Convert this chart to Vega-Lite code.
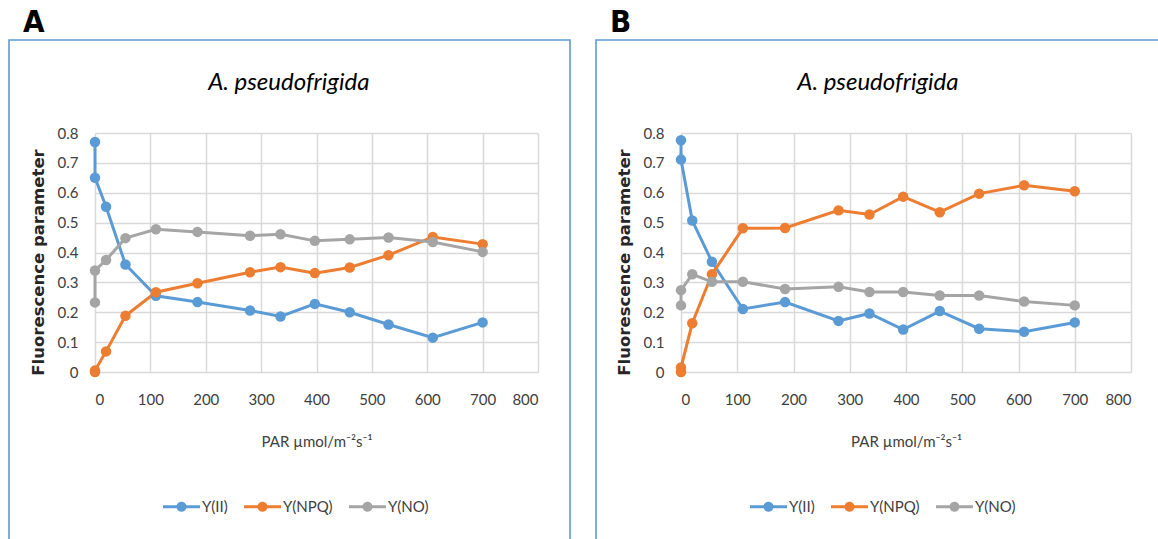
{
  "$schema": "https://vega.github.io/schema/vega-lite/v6.json",
  "padding": {"left": 8, "top": 6, "right": 0, "bottom": 0},
  "spacing": 24,
  "background": "white",
  "datasets": {
    "A": [
      {"idx": 1, "series": "Y(II)", "PAR": 0, "value": 0.77},
      {"idx": 2, "series": "Y(II)", "PAR": 0, "value": 0.65},
      {"idx": 3, "series": "Y(II)", "PAR": 20, "value": 0.553},
      {"idx": 4, "series": "Y(II)", "PAR": 55, "value": 0.36},
      {"idx": 5, "series": "Y(II)", "PAR": 110, "value": 0.255},
      {"idx": 6, "series": "Y(II)", "PAR": 185, "value": 0.234},
      {"idx": 7, "series": "Y(II)", "PAR": 280, "value": 0.206},
      {"idx": 8, "series": "Y(II)", "PAR": 335, "value": 0.186},
      {"idx": 9, "series": "Y(II)", "PAR": 397, "value": 0.228},
      {"idx": 10, "series": "Y(II)", "PAR": 460, "value": 0.2},
      {"idx": 11, "series": "Y(II)", "PAR": 530, "value": 0.159},
      {"idx": 12, "series": "Y(II)", "PAR": 610, "value": 0.115},
      {"idx": 13, "series": "Y(II)", "PAR": 700, "value": 0.166},
      {"idx": 1, "series": "Y(NPQ)", "PAR": 0, "value": 0.0},
      {"idx": 2, "series": "Y(NPQ)", "PAR": 0, "value": 0.005},
      {"idx": 3, "series": "Y(NPQ)", "PAR": 20, "value": 0.069},
      {"idx": 4, "series": "Y(NPQ)", "PAR": 55, "value": 0.188},
      {"idx": 5, "series": "Y(NPQ)", "PAR": 110, "value": 0.267},
      {"idx": 6, "series": "Y(NPQ)", "PAR": 185, "value": 0.297},
      {"idx": 7, "series": "Y(NPQ)", "PAR": 280, "value": 0.334},
      {"idx": 8, "series": "Y(NPQ)", "PAR": 335, "value": 0.351},
      {"idx": 9, "series": "Y(NPQ)", "PAR": 397, "value": 0.331},
      {"idx": 10, "series": "Y(NPQ)", "PAR": 460, "value": 0.35},
      {"idx": 11, "series": "Y(NPQ)", "PAR": 530, "value": 0.391},
      {"idx": 12, "series": "Y(NPQ)", "PAR": 610, "value": 0.452},
      {"idx": 13, "series": "Y(NPQ)", "PAR": 700, "value": 0.428},
      {"idx": 1, "series": "Y(NO)", "PAR": 0, "value": 0.233},
      {"idx": 2, "series": "Y(NO)", "PAR": 0, "value": 0.34},
      {"idx": 3, "series": "Y(NO)", "PAR": 20, "value": 0.375},
      {"idx": 4, "series": "Y(NO)", "PAR": 55, "value": 0.448},
      {"idx": 5, "series": "Y(NO)", "PAR": 110, "value": 0.478},
      {"idx": 6, "series": "Y(NO)", "PAR": 185, "value": 0.469},
      {"idx": 7, "series": "Y(NO)", "PAR": 280, "value": 0.456},
      {"idx": 8, "series": "Y(NO)", "PAR": 335, "value": 0.461},
      {"idx": 9, "series": "Y(NO)", "PAR": 397, "value": 0.439},
      {"idx": 10, "series": "Y(NO)", "PAR": 460, "value": 0.444},
      {"idx": 11, "series": "Y(NO)", "PAR": 530, "value": 0.45},
      {"idx": 12, "series": "Y(NO)", "PAR": 610, "value": 0.435},
      {"idx": 13, "series": "Y(NO)", "PAR": 700, "value": 0.402}
    ],
    "B": [
      {"idx": 1, "series": "Y(II)", "PAR": 0, "value": 0.776},
      {"idx": 2, "series": "Y(II)", "PAR": 0, "value": 0.711},
      {"idx": 3, "series": "Y(II)", "PAR": 20, "value": 0.507},
      {"idx": 4, "series": "Y(II)", "PAR": 55, "value": 0.369},
      {"idx": 5, "series": "Y(II)", "PAR": 110, "value": 0.211},
      {"idx": 6, "series": "Y(II)", "PAR": 185, "value": 0.234},
      {"idx": 7, "series": "Y(II)", "PAR": 280, "value": 0.171},
      {"idx": 8, "series": "Y(II)", "PAR": 335, "value": 0.196},
      {"idx": 9, "series": "Y(II)", "PAR": 395, "value": 0.142},
      {"idx": 10, "series": "Y(II)", "PAR": 460, "value": 0.204},
      {"idx": 11, "series": "Y(II)", "PAR": 530, "value": 0.145},
      {"idx": 12, "series": "Y(II)", "PAR": 610, "value": 0.135},
      {"idx": 13, "series": "Y(II)", "PAR": 700, "value": 0.166},
      {"idx": 1, "series": "Y(NPQ)", "PAR": 0, "value": 0.0},
      {"idx": 2, "series": "Y(NPQ)", "PAR": 0, "value": 0.015},
      {"idx": 3, "series": "Y(NPQ)", "PAR": 20, "value": 0.163},
      {"idx": 4, "series": "Y(NPQ)", "PAR": 55, "value": 0.327},
      {"idx": 5, "series": "Y(NPQ)", "PAR": 110, "value": 0.481},
      {"idx": 6, "series": "Y(NPQ)", "PAR": 185, "value": 0.482},
      {"idx": 7, "series": "Y(NPQ)", "PAR": 280, "value": 0.541},
      {"idx": 8, "series": "Y(NPQ)", "PAR": 335, "value": 0.527},
      {"idx": 9, "series": "Y(NPQ)", "PAR": 395, "value": 0.587},
      {"idx": 10, "series": "Y(NPQ)", "PAR": 460, "value": 0.535},
      {"idx": 11, "series": "Y(NPQ)", "PAR": 530, "value": 0.597},
      {"idx": 12, "series": "Y(NPQ)", "PAR": 610, "value": 0.625},
      {"idx": 13, "series": "Y(NPQ)", "PAR": 700, "value": 0.605},
      {"idx": 1, "series": "Y(NO)", "PAR": 0, "value": 0.223},
      {"idx": 2, "series": "Y(NO)", "PAR": 0, "value": 0.274},
      {"idx": 3, "series": "Y(NO)", "PAR": 20, "value": 0.327},
      {"idx": 4, "series": "Y(NO)", "PAR": 55, "value": 0.302},
      {"idx": 5, "series": "Y(NO)", "PAR": 110, "value": 0.302},
      {"idx": 6, "series": "Y(NO)", "PAR": 185, "value": 0.278},
      {"idx": 7, "series": "Y(NO)", "PAR": 280, "value": 0.285},
      {"idx": 8, "series": "Y(NO)", "PAR": 335, "value": 0.268},
      {"idx": 9, "series": "Y(NO)", "PAR": 395, "value": 0.268},
      {"idx": 10, "series": "Y(NO)", "PAR": 460, "value": 0.256},
      {"idx": 11, "series": "Y(NO)", "PAR": 530, "value": 0.256},
      {"idx": 12, "series": "Y(NO)", "PAR": 610, "value": 0.236},
      {"idx": 13, "series": "Y(NO)", "PAR": 700, "value": 0.223}
    ]
  },
  "hconcat": [
    {
      "width": 561,
      "height": 510,
      "title": {"text": "A", "anchor": "start", "frame": "group", "dx": 14, "offset": 1, "font": "Liberation Sans Narrow, DejaVu Sans Condensed, sans-serif", "fontSize": 31, "fontWeight": "bold", "color": "#000000"},
      "data": {"name": "A"},
      "layer": [
        {
          "mark": {"type": "line", "strokeWidth": 3},
          "encoding": {
            "x": {"field": "PAR", "type": "quantitative", "scale": {"domain": [0, 800], "range": [86, 529], "nice": false, "zero": false},
              "axis": {"orient": "top", "values": [0, 100, 200, 300, 400, 500, 600, 700, 800], "offset": -332, "labelBaseline": "top", "labelPadding": -20, "title": "PAR µmol/m⁻²s⁻¹", "titleY": 69, "titleBaseline": "middle"}},
            "y": {"field": "value", "type": "quantitative", "scale": {"domain": [0, 0.8], "range": [332, 93], "nice": false, "zero": false},
              "axis": {"values": [0, 0.1, 0.2, 0.3, 0.4, 0.5, 0.6, 0.7, 0.8], "format": ".1~f", "offset": -86, "labelPadding": 17, "title": "Fluorescence parameter", "titlePadding": 11, "titleY": 222}},
            "stroke": {"field": "series", "type": "nominal", "scale": {"domain": ["Y(II)", "Y(NPQ)", "Y(NO)"], "range": ["#5B9BD5", "#ED7D31", "#A5A5A5"]},
              "legend": {"orient": "none", "legendX": 154, "legendY": 448, "direction": "horizontal", "title": null}},
            "order": {"field": "idx", "type": "quantitative"}
          }
        },
        {
          "mark": {"type": "point", "filled": true, "opacity": 1, "size": 110},
          "encoding": {
            "x": {"field": "PAR", "type": "quantitative"},
            "y": {"field": "value", "type": "quantitative"},
            "fill": {"field": "series", "type": "nominal", "scale": {"domain": ["Y(II)", "Y(NPQ)", "Y(NO)"], "range": ["#5B9BD5", "#ED7D31", "#A5A5A5"]},
              "legend": {"orient": "none", "legendX": 154, "legendY": 448, "direction": "horizontal", "title": null}}
          }
        },
        {
          "data": {"values": [{}]},
          "mark": {"type": "text", "font": "Lato", "fontStyle": "italic", "fontSize": 24, "align": "center", "baseline": "middle", "color": "#000000"},
          "encoding": {"x": {"datum": 350}, "y": {"datum": 0.967}, "text": {"value": "A. pseudofrigida"}}
        }
      ]
    },
    {
      "width": 570,
      "height": 510,
      "title": {"text": "B", "anchor": "start", "frame": "group", "dx": 14, "offset": 1, "font": "Liberation Sans Narrow, DejaVu Sans Condensed, sans-serif", "fontSize": 31, "fontWeight": "bold", "color": "#000000"},
      "data": {"name": "B"},
      "layer": [
        {
          "mark": {"type": "line", "strokeWidth": 3},
          "encoding": {
            "x": {"field": "PAR", "type": "quantitative", "scale": {"domain": [0, 800], "range": [85, 535], "nice": false, "zero": false},
              "axis": {"orient": "top", "values": [0, 100, 200, 300, 400, 500, 600, 700, 800], "offset": -332, "labelBaseline": "top", "labelPadding": -20, "title": "PAR µmol/m⁻²s⁻¹", "titleY": 69, "titleBaseline": "middle"}},
            "y": {"field": "value", "type": "quantitative", "scale": {"domain": [0, 0.8], "range": [332, 93], "nice": false, "zero": false},
              "axis": {"values": [0, 0.1, 0.2, 0.3, 0.4, 0.5, 0.6, 0.7, 0.8], "format": ".1~f", "offset": -85, "labelPadding": 17, "title": "Fluorescence parameter", "titlePadding": 11, "titleY": 222}},
            "stroke": {"field": "series", "type": "nominal", "scale": {"domain": ["Y(II)", "Y(NPQ)", "Y(NO)"], "range": ["#5B9BD5", "#ED7D31", "#A5A5A5"]},
              "legend": {"orient": "none", "legendX": 154, "legendY": 448, "direction": "horizontal", "title": null}},
            "order": {"field": "idx", "type": "quantitative"}
          }
        },
        {
          "mark": {"type": "point", "filled": true, "opacity": 1, "size": 110},
          "encoding": {
            "x": {"field": "PAR", "type": "quantitative"},
            "y": {"field": "value", "type": "quantitative"},
            "fill": {"field": "series", "type": "nominal", "scale": {"domain": ["Y(II)", "Y(NPQ)", "Y(NO)"], "range": ["#5B9BD5", "#ED7D31", "#A5A5A5"]},
              "legend": {"orient": "none", "legendX": 154, "legendY": 448, "direction": "horizontal", "title": null}}
          }
        },
        {
          "data": {"values": [{}]},
          "mark": {"type": "text", "font": "Lato", "fontStyle": "italic", "fontSize": 24, "align": "center", "baseline": "middle", "color": "#000000"},
          "encoding": {"x": {"datum": 350}, "y": {"datum": 0.967}, "text": {"value": "A. pseudofrigida"}}
        }
      ]
    }
  ],
  "resolve": {
    "scale": {"x": "independent", "y": "independent", "fill": "independent", "stroke": "independent"},
    "legend": {"fill": "independent", "stroke": "independent"}
  },
  "config": {
    "view": {"stroke": "#5B9BD5", "strokeWidth": 1.6, "fill": "white"},
    "axis": {
      "grid": true, "gridColor": "#D9D9D9", "gridWidth": 1.5, "domain": false, "ticks": false, "tickSize": 0,
      "labelFont": "Lato", "labelFontSize": 15, "labelColor": "#404040",
      "titleFont": "Lato", "titleFontSize": 15, "titleFontWeight": "normal", "titleColor": "#404040"
    },
    "axisY": {"titleFont": "DejaVu Sans", "titleFontWeight": "bold", "titleFontSize": 16.5, "titleColor": "#262626"},
    "legend": {
      "symbolType": "M-1,-0.08H1V0.08H-1Z M-0.27,0A0.27,0.27 0 1,1 0.27,0A0.27,0.27 0 1,1 -0.27,0Z",
      "symbolSize": 1369, "symbolStrokeWidth": 0, "symbolOpacity": 1,
      "labelFont": "Lato", "labelFontSize": 15, "labelColor": "#404040", "labelOffset": 2, "columnPadding": 16
    }
  }
}
